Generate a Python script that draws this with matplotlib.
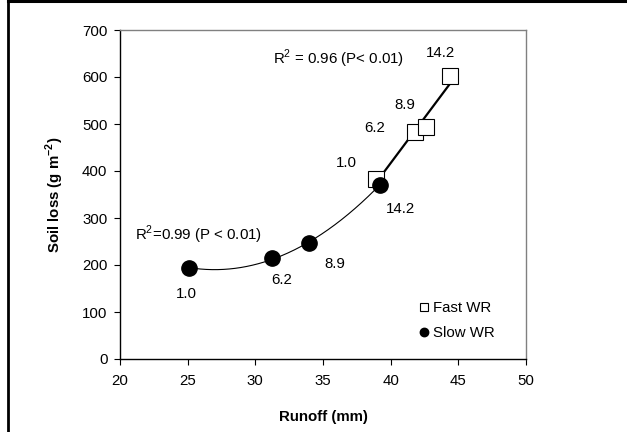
import numpy as np
import matplotlib
matplotlib.use("Agg")
import matplotlib.pyplot as plt
from matplotlib.lines import Line2D

plt.rcParams['font.family'] = ['Liberation Sans', 'DejaVu Sans']
plt.rcParams['mathtext.fontset'] = 'custom'
plt.rcParams['mathtext.rm'] = 'Liberation Sans'
plt.rcParams['mathtext.bf'] = 'Liberation Sans:bold'

# Data
fast_x = [38.9, 41.8, 42.6, 44.4]
fast_y = [383, 484, 494, 603]
fast_labels = ["1.0", "6.2", "8.9", "14.2"]
slow_x = [25.1, 31.2, 34.0, 39.2]
slow_y = [194, 214, 247, 371]
slow_labels = ["1.0", "6.2", "8.9", "14.2"]
x_ticks = [20, 25, 30, 35, 40, 45, 50]
y_ticks = [0, 100, 200, 300, 400, 500, 600, 700]

fig = plt.figure(figsize=(6.27, 4.32), dpi=100)
ax = fig.add_axes([120/627, 1-359/432, 406/627, 329/432])

# trend lines
pf = np.polyfit(fast_x, fast_y, 1)
xf = np.linspace(min(fast_x), max(fast_x), 50)
ax.plot(xf, np.polyval(pf, xf), color='black', lw=1.6, zorder=2)
ps = np.polyfit(slow_x, slow_y, 2)
xs = np.linspace(min(slow_x), max(slow_x), 200)
ax.plot(xs, np.polyval(ps, xs), color='black', lw=0.8, zorder=2)

ax.plot(fast_x, fast_y, linestyle='none', marker='s', markersize=11,
        markerfacecolor='white', markeredgecolor='black', markeredgewidth=0.8,
        zorder=3, label='Fast WR')
ax.plot(slow_x, slow_y, linestyle='none', marker='o', markersize=11,
        markerfacecolor='black', markeredgecolor='black', zorder=4,
        label='Slow WR')

fs = 10.8
# point labels (offsets in points)
fast_off = [(-21, 11.3), (-29, 2.5), (-15, 15.5), (-7, 16)]
for x, y, t, o in zip(fast_x, fast_y, fast_labels, fast_off):
    ax.annotate(t, (x, y), xytext=o, textcoords='offset points',
                ha='center', va='center', fontsize=fs)
slow_off = [(-2, -19), (7, -15.6), (18, -15.3), (14.6, -17.3)]
for x, y, t, o in zip(slow_x, slow_y, slow_labels, slow_off):
    ax.annotate(t, (x, y), xytext=o, textcoords='offset points',
                ha='center', va='center', fontsize=fs)

ax.text(31.3, 638, r'R$^{2}$ = 0.96 (P< 0.01)', fontsize=fs, ha='left', va='center')
ax.text(21.1, 264, r'R$^{2}$=0.99 (P < 0.01)', fontsize=fs, ha='left', va='center')

ax.set_xlim(20, 50)
ax.set_ylim(0, 700)
ax.set_xticks(x_ticks)
ax.set_yticks(y_ticks)
ax.tick_params(direction='out', length=4, width=0.8, labelsize=fs)
ax.tick_params(axis='x', pad=7)
ax.tick_params(axis='y', pad=5)
for s in ['left', 'bottom']:
    ax.spines[s].set_color('black')
    ax.spines[s].set_linewidth(1.0)
for s in ['top', 'right']:
    ax.spines[s].set_color('#808080')
    ax.spines[s].set_linewidth(1.0)

ax.set_xlabel('Runoff (mm)', fontsize=fs, fontweight='bold')
ax.set_ylabel(r'Soil loss (g m$^{\mathbf{-2}}$)', fontsize=fs, fontweight='bold')
ax.xaxis.set_label_coords(0.5, -0.155)
ax.yaxis.set_label_coords(-0.133, 0.5)

leg = ax.legend(loc='upper left', bbox_to_anchor=(0.737, 0.175), frameon=False,
                fontsize=fs, handlelength=0.6, handletextpad=0.33,
                markerscale=0.55, labelspacing=0.72, borderpad=0,
                borderaxespad=0)

# page borders
fig.add_artist(Line2D([8/627, 1], [1-1/432, 1-1/432], transform=fig.transFigure,
                      color='black', lw=2.2))
fig.add_artist(Line2D([8/627, 8/627], [0, 1], transform=fig.transFigure,
                      color='black', lw=2.0))

fig.savefig('out.png', dpi=100)
